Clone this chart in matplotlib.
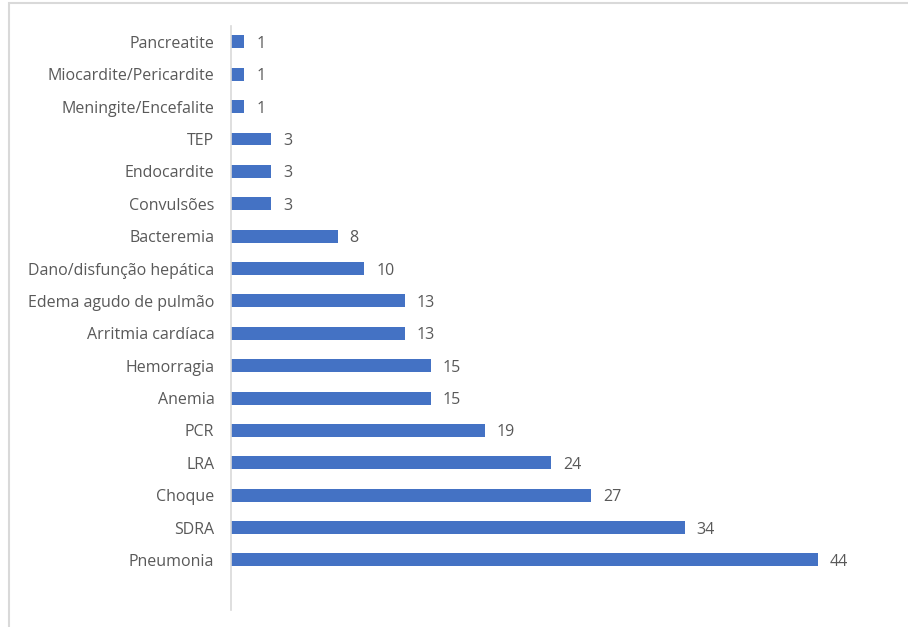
"""Horizontal bar chart of complications."""

import matplotlib.pyplot as plt
from matplotlib.patches import Rectangle

categories = [
    "Pneumonia", "SDRA", "Choque", "LRA", "PCR", "Anemia", "Hemorragia",
    "Arritmia cardíaca", "Edema agudo de pulmão", "Dano/disfunção hepática",
    "Bacteremia", "Convulsões", "Endocardite", "TEP",
    "Meningite/Encefalite", "Miocardite/Pericardite", "Pancreatite",
]
values = [44, 34, 27, 24, 19, 15, 15, 13, 13, 10, 8, 3, 3, 3, 1, 1, 1]

BAR_COLOR = "#4472C4"
TEXT_COLOR = "#595959"

plt.rcParams['font.family'] = ['Open Sans', 'DejaVu Sans']

fig = plt.figure(figsize=(9.08, 6.27), dpi=100)

# Chart area border (light grey), cut off on the right and bottom
fig.patches.append(Rectangle((9 / 908, -0.1), 1.0, 1 - 3 / 627 + 0.1,
                             transform=fig.transFigure, fill=False,
                             edgecolor="#d9d9d9", linewidth=1.5))

ax = fig.add_axes([231 / 908, 1 - 610 / 627, 654 / 908, 584 / 627])

pos = list(range(len(categories)))
ax.barh(pos, values, height=0.4, color=BAR_COLOR)

for y, v in zip(pos, values):
    ax.annotate(str(v), (v, y), xytext=(8.5, 0), textcoords="offset points",
                va="center_baseline", ha="left", color=TEXT_COLOR,
                fontsize=11.5)

ax.set_yticks(pos)
ax.set_yticklabels(categories, color=TEXT_COLOR, fontsize=11.5)
ax.tick_params(axis="y", length=0, pad=12)
ax.set_xticks([])
ax.set_xlim(0, 49)
ax.set_ylim(-1.545, 16.49)

for side in ("top", "right", "bottom"):
    ax.spines[side].set_visible(False)
ax.spines["left"].set_color("#d9d9d9")
ax.spines["left"].set_linewidth(1.2)

fig.savefig("out.png", dpi=100)
